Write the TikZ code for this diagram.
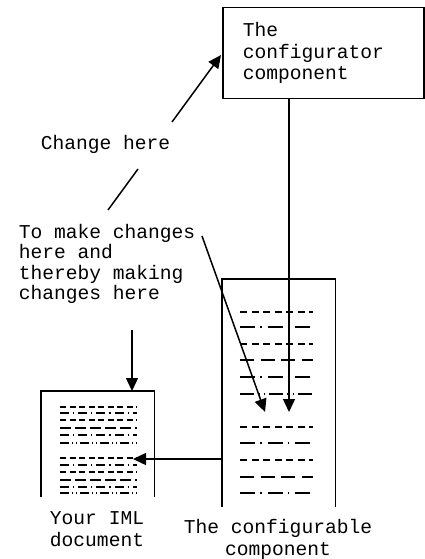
\documentclass[tikz,border=0pt]{standalone}
\usepackage{fontspec}
\setmainfont{Liberation Mono}
\usetikzlibrary{arrows.meta}
\begin{document}
\begin{tikzpicture}[x=1pt,y=-1pt,line width=1.5pt,
  txt/.style={font=\fontsize{19.6}{21.5}\selectfont, inner sep=0pt},
  arr/.style={-{Triangle[length=13pt,width=12pt]}},
  docbox/.style={inner sep=0pt, anchor=north west, minimum width=112pt},
  pa/.style={dash pattern=on 7pt off 4.5pt},
  pb/.style={dash pattern=on 15pt off 5pt on 1.5pt off 6pt},
  pd/.style={dash pattern=on 14pt off 6.5pt},
  pe/.style={dash pattern=on 14pt off 4pt on 1.5pt off 4pt on 1.5pt off 4pt},
  qa/.style={line width=1.2pt, dash pattern=on 6pt off 3.5pt},
  qb/.style={line width=1.2pt, dash pattern=on 9pt off 4pt on 1.2pt off 4pt},
  qd/.style={line width=1.2pt, dash pattern=on 11pt off 4pt},
  qe/.style={line width=1.2pt, dash pattern=on 9pt off 3pt on 1pt off 3pt on 1pt off 3pt}]
\useasboundingbox (0,0) rectangle (425,559);

% configurator box
\node[draw, txt, anchor=north west, minimum width=201pt, minimum height=91pt,
      text width=161pt, inner xsep=20pt, align=left] (conf) at (222,7)
  {The\\configurator\\component};

% configurable component (open bottom)
\node[docbox, minimum height=226pt] (cfg) at (222,279) {};
\draw (cfg.south west) -- (cfg.north west) -- (cfg.north east) -- (cfg.south east);
\foreach \y/\s in {312/pa,327/pb,344/pa,360/pd,377/pb,394/pe,427/pa,443/pb,460/pa,477/pd,493/pb}
  \draw[\s] (240,\y) -- (313,\y);

% IML document (open bottom)
\node[docbox, minimum height=104pt] (iml) at (41,391) {};
\draw (iml.south west) -- (iml.north west) -- (iml.north east) -- (iml.south east);
\foreach \y/\s in {407/qa,413/qb,420/qa,428/qd,435/qb,443/qe,458/qa,465/qb,472/qa,480/qd,487/qb,493/qe}
  \draw[\s] (60,\y) -- (137,\y);

% texts (base anchor of a multi-line node = baseline of its last line)
\node[txt, anchor=base west] (chg) at (40,149) {Change here};
\node[txt, anchor=base west, align=left, font=\fontsize{19.6}{20.5}\selectfont] (tomake) at (18,299.5)
  {To make changes\\here and\\thereby making\\changes here};
\node[txt, anchor=base, align=center, font=\fontsize{19.6}{22}\selectfont] (imllbl) at (97,546) {Your IML\\document};
\node[txt, anchor=base, align=center, font=\fontsize{19.6}{22}\selectfont] (cfglbl) at (278,555) {The configurable\\component};

% connectors
\coordinate (c1) at (108,210);
\coordinate (c2) at (138,169);
\coordinate (c3) at (172,122);
\coordinate (c4) at (221,55);
\draw (c1) -- (c2);
\draw[arr] (c3) -- (c4);

\coordinate (g1) at (202,236);
\coordinate (g2) at (265,412);
\draw[arr] (g1) -- (g2);

\coordinate (d2) at (289,412);
\draw[arr] (conf.south -| d2) -- (d2);

\coordinate (v1) at (132,330);
\draw[arr] (v1) -- (v1 |- iml.north);

\coordinate (h2) at (133,459);
\draw[arr] (cfg.west |- h2) -- (h2);
\end{tikzpicture}
\end{document}
